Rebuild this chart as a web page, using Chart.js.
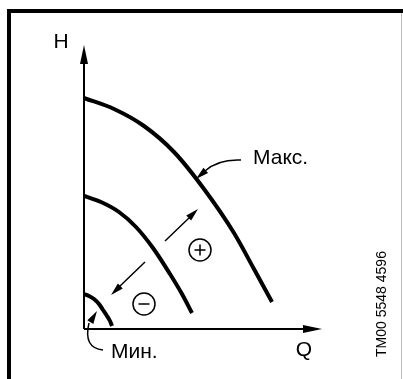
<!DOCTYPE html>
<html>
<head>
<meta charset="utf-8">
<script src="https://cdn.jsdelivr.net/npm/chart.js@4"></script>
<style>
  html, body { margin: 0; padding: 0; background: #fff; }
  #wrap { width: 403px; height: 379px; position: relative; }
</style>
</head>
<body>
<div id="wrap"><canvas id="grafico"></canvas></div>
<script>
// curvas H(Q), unidades arbitrarias
const qMax = [0, 30, 60, 90, 120, 150, 170, 188];
const hMax = [231, 220, 203, 177, 140, 96, 60, 27];
const qMed = [0, 17, 35, 52, 69, 86, 98, 108];
const hMed = [133, 127, 117, 102, 81, 55, 35, 16];
const qMin = [0, 5, 10, 15, 19, 23, 26, 28];
const hMin = [35, 33, 30, 25, 19, 13, 8, 3];
const ejeQ = [0, 238];
const ejeH = [0, 284];
const etiquetas = { h: 'H', q: 'Q', max: 'Макс.', min: 'Мин.', codigo: 'TM00 5548 4596' };

const puntos = (qs, hs) => qs.map((q, i) => ({ x: q, y: hs[i] }));

function flecha(ctx, x0, y0, x1, y1, largo, ancho){
    const a = Math.atan2(y1 - y0, x1 - x0);
    ctx.beginPath();
    ctx.moveTo(x1, y1);
    ctx.lineTo(x1 - largo * Math.cos(a) + ancho * Math.sin(a), y1 - largo * Math.sin(a) - ancho * Math.cos(a));
    ctx.lineTo(x1 - largo * Math.cos(a) - ancho * Math.sin(a), y1 - largo * Math.sin(a) + ancho * Math.cos(a));
    ctx.closePath();
    ctx.fill();
}

const dibujo = {
    id: 'dibujo',
    afterDatasetsDraw(chart){
        const ctx = chart.ctx;
        const xs = chart.scales.x, ys = chart.scales.y;
        const px = v => xs.getPixelForValue(v), py = v => ys.getPixelForValue(v);
        const x0 = px(0), y0 = py(0), xf = px(ejeQ[1]), yf = py(ejeH[1]);
        ctx.save();
        ctx.fillStyle = '#000';
        ctx.strokeStyle = '#000';
        // marco
        ctx.fillRect(7, 9, 4, 370);
        ctx.fillRect(7, 9, 396, 4);
        ctx.fillStyle = '#bbb';
        ctx.fillRect(401, 13, 1, 366);
        ctx.fillStyle = '#000';
        // ejes
        ctx.lineWidth = 2;
        ctx.beginPath();
        ctx.moveTo(x0, y0); ctx.lineTo(x0, yf + 15);
        ctx.moveTo(x0, y0); ctx.lineTo(xf - 15, y0);
        ctx.stroke();
        flecha(ctx, x0, y0, x0, yf, 19, 4);
        flecha(ctx, x0, y0, xf, y0, 19, 4);
        // flechas + / -
        ctx.lineWidth = 1.5;
        ctx.beginPath();
        ctx.moveTo(165, 241); ctx.lineTo(190, 217);
        ctx.moveTo(145, 262); ctx.lineTo(119, 287);
        ctx.stroke();
        flecha(ctx, 165, 241, 198, 209, 13, 3.5);
        flecha(ctx, 145, 262, 111, 295, 13, 3.5);
        // circulos
        ctx.lineWidth = 1.5;
        [[200, 250, '+'], [144, 304, '-']].forEach(([cx, cy, s]) => {
            ctx.beginPath();
            ctx.arc(cx, cy, 11, 0, Math.PI * 2);
            ctx.stroke();
            ctx.beginPath();
            ctx.moveTo(cx - 5.5, cy); ctx.lineTo(cx + 5.5, cy);
            if(s === '+'){ ctx.moveTo(cx, cy - 5.5); ctx.lineTo(cx, cy + 5.5); }
            ctx.stroke();
        });
        // indicadores curvos
        ctx.beginPath();
        ctx.moveTo(241, 160);
        ctx.quadraticCurveTo(218, 159, 205, 171);
        ctx.stroke();
        flecha(ctx, 212, 165, 196, 179, 13, 3.5);
        ctx.beginPath();
        ctx.moveTo(103, 350);
        ctx.quadraticCurveTo(83, 348, 89, 323);
        ctx.stroke();
        flecha(ctx, 88, 326, 97, 311, 13, 3.5);
        // textos
        ctx.font = '21px "Liberation Sans", Arial, sans-serif';
        ctx.textBaseline = 'alphabetic';
        ctx.textAlign = 'center';
        ctx.fillText(etiquetas.h, 61, 48);
        ctx.fillText(etiquetas.q, 304, 356);
        ctx.textAlign = 'left';
        ctx.fillText(etiquetas.max, 253, 164);
        ctx.fillText(etiquetas.min, 111, 358);
        ctx.save();
        ctx.translate(386, 304);
        ctx.rotate(-Math.PI / 2);
        ctx.font = '14px "Liberation Sans", Arial, sans-serif';
        ctx.textAlign = 'center';
        ctx.fillText(etiquetas.codigo, 0, 0);
        ctx.restore();
        ctx.restore();
    }
};

const estilo = { borderColor: '#000', borderWidth: 4, pointRadius: 0, showLine: true, cubicInterpolationMode: 'monotone', borderCapStyle: 'butt', fill: false };

new Chart(document.getElementById('grafico'), {
    type: 'scatter',
    data: {
        datasets: [
            Object.assign({ label: 'Макс.', data: puntos(qMax, hMax) }, estilo),
            Object.assign({ label: 'Средн.', data: puntos(qMed, hMed) }, estilo),
            Object.assign({ label: 'Мин.', data: puntos(qMin, hMin) }, estilo)
        ]
    },
    options: {
        responsive: true,
        maintainAspectRatio: false,
        animation: false,
        layout: { padding: { left: 84, top: 45, right: 81, bottom: 50 } },
        plugins: { legend: { display: false }, tooltip: { enabled: false } },
        scales: {
            x: { display: false, min: ejeQ[0], max: ejeQ[1] },
            y: { display: false, min: ejeH[0], max: ejeH[1] }
        }
    },
    plugins: [dibujo]
});
</script>
</body>
</html>
